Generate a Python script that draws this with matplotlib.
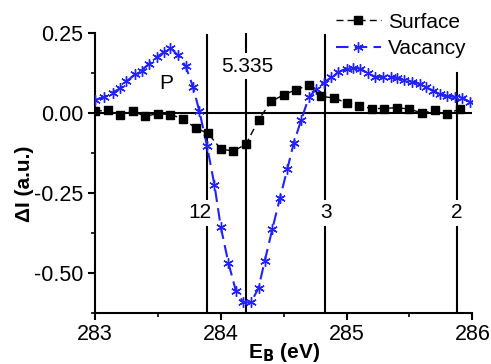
import matplotlib.pyplot as plt
from matplotlib.ticker import MultipleLocator

plt.rcParams['font.family'] = ['Liberation Sans', 'DejaVu Sans']

# surface difference spectrum (step 0.1 eV)
surf_x = [283.0, 283.1, 283.2, 283.3, 283.4, 283.5, 283.6, 283.7, 283.8, 283.9,
          284.0, 284.1, 284.2, 284.3, 284.4, 284.5, 284.6, 284.7, 284.8, 284.9,
          285.0, 285.1, 285.2, 285.3, 285.4, 285.5, 285.6, 285.7, 285.8, 285.9]
surf_y = [0.006, 0.008, -0.005, 0.005, -0.010, -0.002, -0.005, -0.018, -0.047, -0.064,
          -0.113, -0.119, -0.098, -0.022, 0.036, 0.057, 0.073, 0.087, 0.052, 0.047,
          0.032, 0.022, 0.014, 0.014, 0.017, 0.012, 0.000, 0.008, -0.002, 0.012]

# vacancy difference spectrum
vac_x = [283.00, 283.07, 283.14, 283.20, 283.25, 283.32, 283.37, 283.43, 283.49, 283.55,
         283.60, 283.66, 283.72, 283.78, 283.83, 283.89, 283.95, 284.00, 284.06, 284.12,
         284.18, 284.24, 284.30, 284.35, 284.41, 284.47, 284.53, 284.58, 284.64, 284.70,
         284.76, 284.82, 284.88, 284.93, 285.00, 285.05, 285.11, 285.17, 285.23, 285.29,
         285.35, 285.40, 285.46, 285.52, 285.58, 285.63, 285.69, 285.74, 285.80, 285.86,
         285.92, 285.98]
vac_y = [0.040, 0.050, 0.064, 0.077, 0.099, 0.121, 0.133, 0.154, 0.175, 0.191,
         0.204, 0.180, 0.147, 0.081, 0.005, -0.102, -0.226, -0.357, -0.468, -0.557,
         -0.593, -0.593, -0.548, -0.462, -0.363, -0.267, -0.174, -0.094, -0.021, 0.049,
         0.075, 0.095, 0.112, 0.127, 0.139, 0.141, 0.139, 0.124, 0.113, 0.113,
         0.112, 0.111, 0.104, 0.098, 0.091, 0.081, 0.070, 0.059, 0.053, 0.050,
         0.048, 0.034]

# reference lines and their labels
ref_x = [283.89, 284.20, 284.83, 285.88]
ref_top = [0.243, 0.25, 0.243, 0.124]
ref_labels = ['12', '5.335', '3', '2']
label_x = [283.835, 284.21, 284.84, 285.88]
label_y = [-0.313, 0.146, -0.313, -0.313]

fig = plt.figure(figsize=(4.91, 3.64), dpi=100)
ax = fig.add_axes([0.1935, 0.141, 0.7685, 0.768])

for x, top in zip(ref_x, ref_top):
    ax.plot([x, x], [-0.625, top], color='black', lw=1.5, zorder=1)
for x, y, s in zip(label_x, label_y, ref_labels):
    ax.text(x, y, s, fontsize=15, ha='center', va='center', zorder=2,
            bbox=dict(facecolor='white', edgecolor='none', pad=2.5))

ax.axhline(0, color='black', lw=1.5, zorder=1)

ax.plot(surf_x, surf_y, color='black', ls=(0, (5, 3)), lw=1.0,
        marker='s', ms=6, label='Surface', zorder=4)
ax.plot(vac_x, vac_y, color='#2222ff', ls=(0, (6, 3)), lw=1.5,
        marker=(6, 2, 0), ms=7.5, mew=1.0, label='Vacancy', zorder=3)

ax.text(283.57, 0.093, 'P', fontsize=15, ha='center', va='center')

ax.set_xlim(283, 286)
ax.set_ylim(-0.625, 0.25)
ax.xaxis.set_major_locator(MultipleLocator(1))
ax.xaxis.set_minor_locator(MultipleLocator(0.5))
ax.yaxis.set_major_locator(MultipleLocator(0.25))
ax.yaxis.set_minor_locator(MultipleLocator(0.125))
ax.yaxis.set_major_formatter(plt.FormatStrFormatter('%.2f'))

ax.spines['top'].set_visible(False)
ax.spines['right'].set_visible(False)
for sp in ('left', 'bottom'):
    ax.spines[sp].set_linewidth(1.5)
ax.tick_params(which='major', direction='out', length=5, width=1.5, labelsize=15.5)
ax.tick_params(which='minor', direction='out', length=3, width=1.2)

ax.set_xlabel(r'E$_\mathbf{B}$ (eV)', fontsize=15, fontweight='bold', labelpad=-3)
ax.set_ylabel('ΔI (a.u.)', fontsize=15, fontweight='bold')
ax.yaxis.set_label_coords(-0.163, 0.46)

leg = ax.legend(loc='upper right', bbox_to_anchor=(0.975, 1.0),
                bbox_transform=fig.transFigure, frameon=False, fontsize=15,
                handlelength=2.2, handletextpad=0.3, labelspacing=0.35,
                borderaxespad=0.2, numpoints=1)

fig.savefig('out.png', dpi=100)
